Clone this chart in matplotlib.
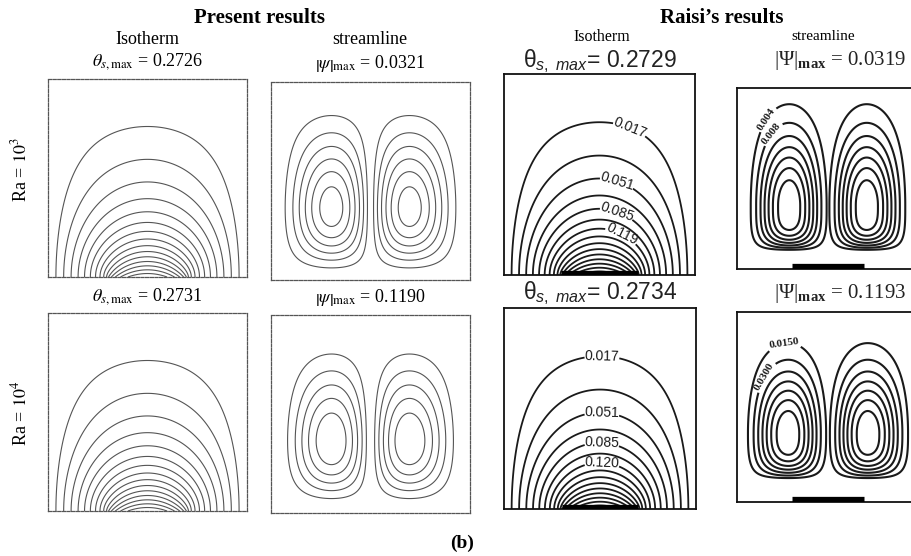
import numpy as np
import matplotlib
matplotlib.use("Agg")
import matplotlib.pyplot as plt

plt.rcParams['font.family'] = ['Liberation Serif', 'DejaVu Serif']
plt.rcParams['mathtext.fontset'] = 'custom'
plt.rcParams['mathtext.rm'] = 'Liberation Sans'
plt.rcParams['mathtext.it'] = 'Liberation Sans:italic'
plt.rcParams['mathtext.bf'] = 'Liberation Serif:bold'

# Ra = 10^3 (row 1) and Ra = 10^4 (row 2)
rayleigh = ['10^3', '10^4']
theta_max_present = [0.2726, 0.2731]
psi_max_present = [0.0321, 0.1190]
theta_max_raisi = [0.2729, 0.2734]
psi_max_raisi = [0.0319, 0.1193]

# contour levels of the stream function
psi_levels_present = [[0.004, 0.009, 0.014, 0.019, 0.024, 0.029],
                      [0.02, 0.04, 0.06, 0.08, 0.10]]
psi_levels_raisi = [[0.004, 0.008, 0.012, 0.016, 0.020, 0.024, 0.028],
                    [0.015, 0.030, 0.045, 0.060, 0.075, 0.090, 0.105]]
n_isotherm_steps = 16          # isotherms at theta_max * k / 16

source = (0.3, 0.7)            # heated segment on the bottom wall
cell_height = 0.365            # height of the vortex centres

# shape of Raisi's cells: centre, half widths on each side, exponent below the centre
raisi_cells = [
    dict(uc=0.575, sl=0.60, sr=0.58, yc=0.35, su=0.389, sd=0.254, pd=3.3),
    dict(uc=0.564, sl=0.628, sr=0.588, yc=0.361, su=0.33, sd=0.247, pd=2.7),
]

# labelled contours in Raisi's plots (level index, x, y)
raisi_iso_labels = [[(0, 0.65, 0.71), (2, 0.60, 0.49), (4, 0.59, 0.31), (6, 0.62, 0.21)],
                    [(0, 0.51, 0.75), (2, 0.51, 0.48), (4, 0.51, 0.33), (6, 0.51, 0.22)]]
raisi_psi_labels = [[(0, 0.16, 0.83), (1, 0.19, 0.75)],
                    [(0, 0.26, 0.835), (1, 0.15, 0.66)]]
raisi_psi_fmt = ['%.3f', '%.4f']

W, H = 911, 556
fig = plt.figure(figsize=(W / 100, H / 100), dpi=100)


def px(x, y):
    return x / W, 1 - y / H


def add_box(x0, y0, x1, y1):
    ax = fig.add_axes([x0 / W, 1 - y1 / H, (x1 - x0) / W, (y1 - y0) / H])
    ax.set_xlim(0, 1)
    ax.set_ylim(0, 1)
    ax.set_xticks([])
    ax.set_yticks([])
    return ax


x = np.linspace(0, 1, 301)
y = np.linspace(0, 1, 301)
X, Y = np.meshgrid(x, y)


def temperature(theta_max):
    # conduction: cold sides and top, flux from the heater, adiabatic elsewhere
    T = np.zeros_like(X)
    a, b = source
    for n in range(1, 600):
        k = n * np.pi
        bn = 2 / k * (np.cos(k * a) - np.cos(k * b))
        if abs(bn) < 1e-12:
            continue
        decay = (np.exp(-k * Y) - np.exp(-k * (2 - Y))) / (1 + np.exp(-2 * k))
        T += bn * np.sin(k * X) * decay / k
    return T / T.max() * theta_max


def stream(psi_max):
    # two symmetric counter-rotating cells, |psi|
    u = np.where(X < 0.5, 2 * X, 2 * (1 - X))
    S = np.sin(np.pi * u) * np.sin(np.pi * u / 2)
    k = 2 / cell_height - 2 / (1 - cell_height)
    G = Y ** 2 * (1 - Y) ** 2 * np.exp(-k * Y)
    P = S * G
    return P / P.max() * psi_max


def raisi_stream(psi_max, c):
    # separable cell: compact profile across, gaussian above the centre, steep below
    u = np.where(X < 0.5, 2 * X, 2 * (1 - X))
    du = u - c['uc']
    a = np.abs(du) / np.where(du < 0, c['sl'], c['sr'])
    Fx = np.clip(1 - a ** 2, 0, None) ** 3
    dy = Y - c['yc']
    b_up = np.clip(dy, 0, None) / c['su']
    b_dn = np.clip(-dy, 0, None) / c['sd']
    Fy = np.where(dy >= 0, np.exp(-b_up ** 2), np.clip(1 - b_dn ** c['pd'], 0, None))
    return psi_max * Fx * Fy


def labelled_contours(ax, field, levels, picks, fmt, lw, fontsize):
    # plain contours, then the labelled ones as their own set so clabel can break them
    lab_levels = sorted(levels[i] for i, _, _ in picks)
    rest = [lv for lv in levels if lv not in lab_levels]
    ax.contour(X, Y, field, levels=rest, colors='#1a1a1a', linewidths=lw)
    cs = ax.contour(X, Y, field, levels=lab_levels, colors='#1a1a1a', linewidths=lw)
    return ax.clabel(cs, manual=[(lx, ly) for _, lx, ly in picks], fmt=fmt,
                     fontsize=fontsize, inline=True, inline_spacing=2)


def present_style(ax):
    for s in ax.spines.values():
        s.set_linestyle((0, (2.5, 1.2)))
        s.set_linewidth(0.9)
        s.set_color('#555555')


def raisi_style(ax):
    for s in ax.spines.values():
        s.set_linewidth(1.3)
        s.set_color('#111111')


def heater(ax, yb):
    ax.plot(source, [yb, yb], color='black', lw=3.8, solid_capstyle='butt', zorder=5)


iso_boxes_p = [(48, 79, 247, 277), (48, 313, 247, 511)]
psi_boxes_p = [(271, 82, 470, 280), (271, 315, 470, 513)]
iso_boxes_r = [(504, 74, 695, 275), (504, 308, 696, 509)]
psi_boxes_r = [(737, 88, 919, 269), (737, 312, 919, 502)]

for row in range(2):
    # present results
    ax = add_box(*iso_boxes_p[row])
    tm = theta_max_present[row]
    levels = [tm * k / n_isotherm_steps for k in range(1, n_isotherm_steps)]
    ax.contour(X, Y, temperature(tm), levels=levels, colors='#555555', linewidths=0.8)
    present_style(ax)

    ax = add_box(*psi_boxes_p[row])
    ax.contour(X, Y, stream(psi_max_present[row]), levels=psi_levels_present[row],
               colors='#555555', linewidths=0.8)
    present_style(ax)

    # Raisi's results
    ax = add_box(*iso_boxes_r[row])
    tm = theta_max_raisi[row]
    levels = [tm * k / n_isotherm_steps for k in range(1, n_isotherm_steps)]
    texts = labelled_contours(ax, temperature(tm), levels, raisi_iso_labels[row], '%.3f', 1.3, 10)
    for t in texts:
        t.set_fontfamily('Liberation Sans')
    raisi_style(ax)
    heater(ax, 0.012)

    ax = add_box(*psi_boxes_r[row])
    texts = labelled_contours(ax, raisi_stream(psi_max_raisi[row], raisi_cells[row]),
                              psi_levels_raisi[row], raisi_psi_labels[row],
                              raisi_psi_fmt[row], 1.5, 8)
    for t in texts:
        t.set_fontweight('bold')
    raisi_style(ax)
    heater(ax, 0.017)

# headings
fig.text(*px(259, 18), 'Present results', ha='center', va='center', fontsize=15, fontweight='bold')
fig.text(*px(722, 18), 'Raisi\u2019s results', ha='center', va='center', fontsize=15, fontweight='bold')
fig.text(*px(147, 40), 'Isotherm', ha='center', va='center', fontsize=13)
fig.text(*px(370, 40), 'streamline', ha='center', va='center', fontsize=13)
fig.text(*px(602, 37), 'Isotherm', ha='center', va='center', fontsize=11.5)
fig.text(*px(823, 37), 'streamline', ha='center', va='center', fontsize=11)

label_y = [62, 297]
raisi_label_y = [61, 293]
ra_y = [170, 413]
for row in range(2):
    fig.text(*px(147, label_y[row]), r'$\theta_{s,\mathrm{max}}$ = %.4f' % theta_max_present[row],
             ha='center', va='center', fontsize=13, math_fontfamily='stix')
    fig.text(*px(370, label_y[row] + 1), r'$\left|\psi\right|_{\mathrm{max}}$ = %.4f' % psi_max_present[row],
             ha='center', va='center', fontsize=13, math_fontfamily='stix')
    fig.text(*px(20, ra_y[row]), r'Ra = $%s$' % rayleigh[row], rotation=90,
             ha='center', va='center', fontsize=13, math_fontfamily='stix')
    fig.text(*px(600, raisi_label_y[row]), 'θ$_{s,\\ max}$= %.4f' % theta_max_raisi[row],
             ha='center', va='center', fontsize=16.5, family='Liberation Sans', color='#222222')
    fig.text(*px(840, raisi_label_y[row]), '|Ψ|$_{\\mathbf{max}}$ = %.4f' % psi_max_raisi[row],
             ha='center', va='center', fontsize=15, color='#222222')

fig.text(*px(462, 543), '(b)', ha='center', va='center', fontsize=14, fontweight='bold')

fig.savefig('out.png', dpi=100)
